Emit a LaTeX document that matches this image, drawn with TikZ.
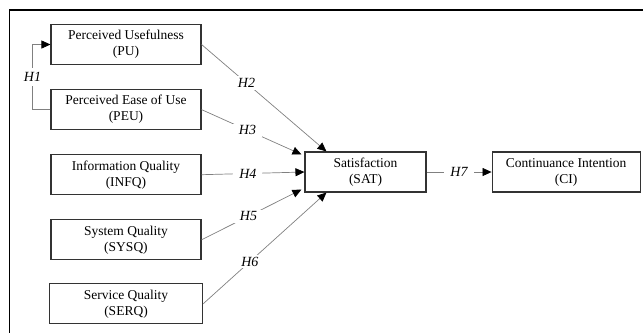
\documentclass[tikz,border=0pt]{standalone}
\usepackage{fontspec}
\setmainfont{Liberation Serif}
\usetikzlibrary{arrows.meta, positioning}

\begin{document}
\begin{tikzpicture}[
    x=1pt, y=-1pt,
    node distance=24pt and 65pt, % khoảng cách giữa các hộp
    box/.style={
      rectangle,
      minimum height=40pt,
      minimum width=150pt,
      draw=black!80,
      line width=1.1pt,
      align=center,
      font=\fontsize{13.5}{16}\selectfont,
      inner sep=1pt
    },
    arrow/.style={
      -{Triangle[length=9pt,width=8pt,color=black]},
      draw=black!50,
      line width=0.7pt
    },
    hyp/.style={
      fill=white,
      inner xsep=6pt,
      inner ysep=2pt,
      font=\fontsize{14}{16}\selectfont\itshape
    }
  ]

  \useasboundingbox (0,0) rectangle (643,333);

  % Khung ngoài (chỉ cạnh trên và cạnh trái)
  \draw[line width=1.8pt] (643,10) -- (9.5,10) -- (9.5,333);

  % Cột bên trái
  \node[box] (pu) at (126,44.5) {Perceived Usefulness\\(PU)};
  \node[box, below=of pu] (peu) {Perceived Ease of Use\\(PEU)};
  \node[box, below=of peu] (infq) {Information Quality\\(INFQ)};
  \node[box, below=of infq] (sysq) {System Quality\\(SYSQ)};
  \node[box, below=23pt of sysq, minimum width=153pt] (serq) {Service Quality\\(SERQ)};

  % Bên phải
  \node[box, minimum width=121pt] (sat) at (365.5,172) {Satisfaction\\(SAT)};
  \node[box, right=of sat, minimum width=148pt] (ci) {Continuance Intention\\(CI)};

  % Các mũi tên
  \coordinate (h1bend) at ([xshift=-18pt]peu.west);
  \draw[arrow] (peu.west) -- (h1bend) |- node[hyp, pos=0.25, inner xsep=1pt, inner ysep=4pt] {H1} (pu.west);
  \draw[arrow] (pu.east) -- node[hyp, pos=0.36] {H2} ([xshift=22pt]sat.north west);
  \draw[arrow] (peu.east) -- node[hyp, pos=0.46] {H3} ([xshift=-3pt,yshift=-3pt]sat.north west);
  \draw[arrow] (infq.east) -- node[hyp, pos=0.45] {H4} (sat.west);
  \draw[arrow] (sysq.east) -- node[hyp, pos=0.47] {H5} ([xshift=-3pt,yshift=3pt]sat.south west);
  \draw[arrow] (serq.east) -- node[hyp, pos=0.38] {H6} ([xshift=22pt]sat.south west);
  \draw[arrow] (sat.east) -- node[hyp] {H7} (ci.west);

\end{tikzpicture}
\end{document}
